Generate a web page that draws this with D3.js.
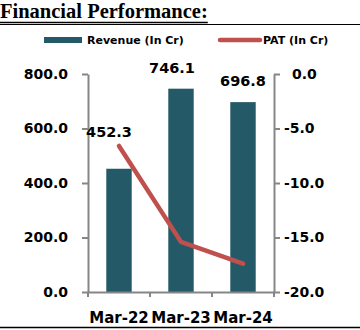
<!DOCTYPE html>
<html><head><meta charset="utf-8">
<script src="https://cdn.jsdelivr.net/npm/d3@7"></script>
<style>body{margin:0;background:#fff;}svg{display:block;}</style>
</head><body>
<svg id="c" width="360" height="330"></svg>
<script>
const title = "Financial Performance:";
const categories = ["Mar-22", "Mar-23", "Mar-24"];
const revenue = [452.3, 746.1, 696.8];
const pat = [-6.6, -15.4, -17.4];
const leftTicks = [0, 200, 400, 600, 800];
const rightTicks = [-20, -15, -10, -5, 0];
const seriesNames = ["Revenue (In Cr)", "PAT (In Cr)"];

const svg = d3.select("#c");
const barColor = "#245a67", lineColor = "#c0504d", axisColor = "#868686";
const tickFont = "DejaVu Sans";

const x = d3.scaleBand().domain(categories).range([88, 274]).padding(0);
const yL = d3.scaleLinear().domain([0, 800]).range([292, 74]);
const yR = d3.scaleLinear().domain([-20, 0]).range([292, 74]);

// title
const t = svg.append("text").attr("x", 0).attr("y", 18)
  .attr("font-family", "Liberation Serif").attr("font-weight", "bold")
  .attr("font-size", 20.5).attr("fill", "#000").text(title);
const tw = t.node().getComputedTextLength();
svg.append("line").attr("x1", 0).attr("x2", tw).attr("y1", 22.5).attr("y2", 22.5)
  .attr("stroke", "#000").attr("stroke-width", 1.5);
svg.append("line").attr("x1", 0).attr("x2", 360).attr("y1", 24.5).attr("y2", 24.5)
  .attr("stroke", "#000").attr("stroke-width", 1);
svg.append("line").attr("x1", 0).attr("x2", 360).attr("y1", 327.5).attr("y2", 327.5)
  .attr("stroke", "#000").attr("stroke-width", 1.5);

// legend
svg.append("rect").attr("x", 44).attr("y", 37).attr("width", 38).attr("height", 6).attr("fill", barColor);
svg.append("text").attr("x", 87).attr("y", 44).attr("font-family", tickFont).attr("font-weight", "bold")
  .attr("font-size", 11).text(seriesNames[0]);
svg.append("line").attr("x1", 220).attr("x2", 260).attr("y1", 40).attr("y2", 40)
  .attr("stroke", lineColor).attr("stroke-width", 4.5).attr("stroke-linecap", "round");
svg.append("text").attr("x", 263).attr("y", 44).attr("font-family", tickFont).attr("font-weight", "bold")
  .attr("font-size", 11).text(seriesNames[1]);

// bars
const bw = x.bandwidth();
svg.append("g").selectAll("rect").data(revenue).join("rect")
  .attr("x", (d, i) => x(categories[i]) + bw * 0.295)
  .attr("width", bw * 0.41)
  .attr("y", d => yL(d)).attr("height", d => yL(0) - yL(d))
  .attr("fill", barColor);

// axes
function styleAxis(g) {
  g.selectAll("path.domain").attr("stroke", axisColor).attr("stroke-width", 2);
  g.selectAll(".tick line").attr("stroke", axisColor).attr("stroke-width", 2);
  g.selectAll("text").attr("font-family", tickFont).attr("font-weight", "bold")
    .attr("font-size", 14).attr("fill", "#000");
}
const gL = svg.append("g").attr("transform", "translate(88,0)")
  .call(d3.axisLeft(yL).tickValues(leftTicks).tickFormat(d3.format(".1f")).tickSize(6).tickSizeOuter(0).tickPadding(14));
styleAxis(gL);
const gR = svg.append("g").attr("transform", "translate(274,0)")
  .call(d3.axisRight(yR).tickValues(rightTicks).tickFormat(d => d3.format(".1f")(d).replace("\u2212", "-")).tickSize(6).tickSizeOuter(0).tickPadding(4));
styleAxis(gR);
gR.selectAll(".tick text").attr("dx", d => d === 0 ? 8 : 0);

const gX = svg.append("g").attr("transform", "translate(0,292)")
  .call(d3.axisBottom(x).tickSize(0).tickSizeOuter(0).tickPadding(20));
styleAxis(gX);
gX.selectAll(".tick text").attr("font-size", 15);
// x tick marks at band edges
svg.append("g").selectAll("line").data(categories.concat([null])).join("line")
  .attr("x1", (d, i) => x.range()[0] + i * x.step()).attr("x2", (d, i) => x.range()[0] + i * x.step())
  .attr("y1", 292).attr("y2", 297).attr("stroke", axisColor).attr("stroke-width", 2);

// PAT line
const line = d3.line().x((d, i) => x(categories[i]) + bw / 2).y(d => yR(d));
svg.append("path").datum(pat).attr("d", line).attr("fill", "none")
  .attr("stroke", lineColor).attr("stroke-width", 4.5).attr("stroke-linecap", "round").attr("stroke-linejoin", "round");

// data labels
const labelDy = [-37, -21, -21];
const labelDx = [-10, -9, 0];
svg.append("g").selectAll("text").data(revenue).join("text")
  .attr("x", (d, i) => x(categories[i]) + bw / 2 + labelDx[i])
  .attr("y", (d, i) => yL(d) + labelDy[i])
  .attr("dy", "0.36em").attr("text-anchor", "middle")
  .attr("font-family", tickFont).attr("font-weight", "bold").attr("font-size", 14.5)
  .text(d => d3.format(".1f")(d));
</script>
</body></html>
